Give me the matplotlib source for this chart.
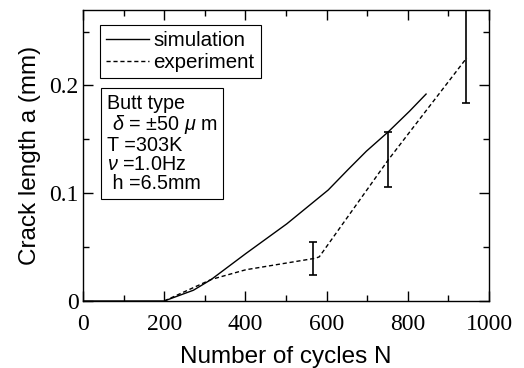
import numpy as np
import matplotlib
matplotlib.use("Agg")
import matplotlib.pyplot as plt
from matplotlib.ticker import MultipleLocator

plt.rcParams["mathtext.fontset"] = "custom"
plt.rcParams["mathtext.it"] = "Liberation Sans:italic"
plt.rcParams["mathtext.rm"] = "Liberation Sans"

# simulation curve
sim_N = [0, 200, 272, 316, 401, 502, 604, 653, 698, 752, 804, 845]
sim_a = [0, 0, 0.010, 0.020, 0.044, 0.0716, 0.103, 0.122, 0.139, 0.157, 0.176, 0.192]

# experiment curve
exp_N = [200, 316, 401, 573, 582, 752, 945]
exp_a = [0, 0.020, 0.029, 0.0397, 0.041, 0.131, 0.2255]

# error bars
err_N = [567, 750, 943]
err_lo = [0.0245, 0.106, 0.1836]
err_hi = [0.0545, 0.1564, 0.270]

serif = "Liberation Serif"
sans = "Liberation Sans"

fig = plt.figure(figsize=(5.24, 3.68), dpi=100)
ax = fig.add_axes([83/524, 1 - 301/368, (489-83)/524, (301-10)/368])

ax.plot(sim_N, sim_a, "k-", lw=1.0, label="simulation")
ax.plot(exp_N, exp_a, "k--", lw=1.0, dashes=(3, 2), label="experiment")
mid = [(l + h) / 2 for l, h in zip(err_lo, err_hi)]
half = [(h - l) / 2 for l, h in zip(err_lo, err_hi)]
ax.errorbar(err_N, mid, yerr=half, fmt="none", ecolor="k", elinewidth=1.2, capsize=3, capthick=1.2)

ax.set_xlim(0, 1000)
ax.set_ylim(0, 0.27)
ax.xaxis.set_major_locator(MultipleLocator(200))
ax.xaxis.set_minor_locator(MultipleLocator(100))
ax.yaxis.set_minor_locator(MultipleLocator(0.05))
ax.set_yticks([0, 0.1, 0.2])
ax.set_yticklabels(["0", "0.1", "0.2"])
ax.tick_params(which="both", direction="in", top=True, right=True, width=1.0)
ax.tick_params(which="major", length=7)
ax.tick_params(which="minor", length=4)
for lab in ax.get_xticklabels() + ax.get_yticklabels():
    lab.set_fontfamily(serif)
    lab.set_fontsize(17)
ax.tick_params(axis="x", pad=9)
ax.tick_params(axis="y", pad=3)
for s in ax.spines.values():
    s.set_linewidth(1.0)

ax.set_xlabel("Number of cycles N", family=sans, fontsize=17.5, labelpad=8)
ax.set_ylabel("Crack length a (mm)", family=sans, fontsize=17.5, labelpad=6)

leg = ax.legend(loc="upper left", bbox_to_anchor=(0.042, 0.95), fancybox=False,
                edgecolor="k", framealpha=1, handlelength=2.1, handletextpad=0.2,
                borderpad=0.3, borderaxespad=0, labelspacing=0.15,
                prop={"family": sans, "size": 14.8})
leg.get_frame().set_linewidth(0.8)

ax.text(0.058, 0.71, "Butt type\n $\\delta$ = ±50 $\\mu$ m\nT =303K\n$\\nu$ =1.0Hz\n h =6.5mm",
        transform=ax.transAxes, ha="left", va="top", family=sans, fontsize=14.2,
        linespacing=1.0,
        bbox=dict(boxstyle="square,pad=0.3", fc="white", ec="k", lw=0.8))

fig.savefig("out.png", dpi=100)
